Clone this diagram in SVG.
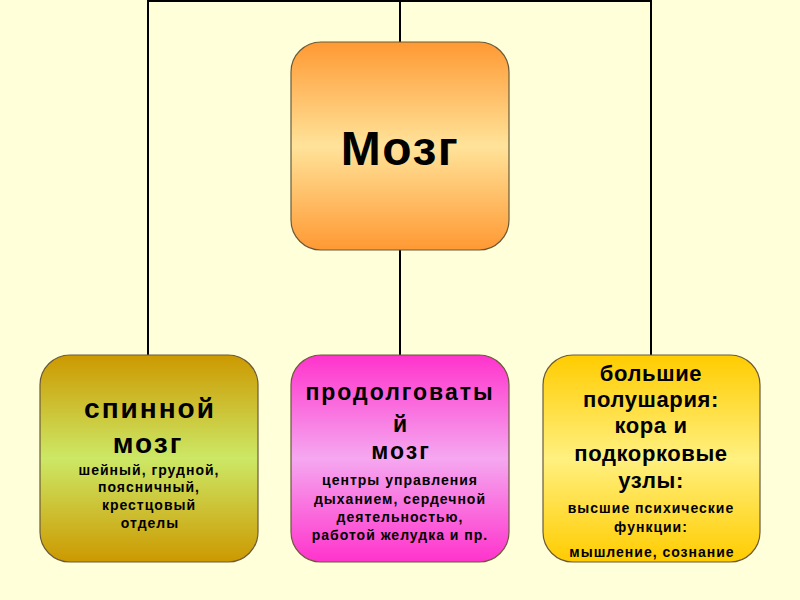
<svg xmlns="http://www.w3.org/2000/svg" width="800" height="600" viewBox="0 0 800 600">
<defs>
<linearGradient id="gTop" x1="0" y1="0" x2="0" y2="1"><stop offset="0" stop-color="#FF9933"/><stop offset="0.5" stop-color="#FFE39A"/><stop offset="1" stop-color="#FF9933"/></linearGradient>
<linearGradient id="gL" x1="0" y1="0" x2="0" y2="1"><stop offset="0" stop-color="#CC9900"/><stop offset="0.5" stop-color="#CCE866"/><stop offset="1" stop-color="#CC9900"/></linearGradient>
<linearGradient id="gM" x1="0" y1="0" x2="0" y2="1"><stop offset="0" stop-color="#FF33CC"/><stop offset="0.5" stop-color="#F5A8F0"/><stop offset="1" stop-color="#FF33CC"/></linearGradient>
<linearGradient id="gR" x1="0" y1="0" x2="0" y2="1"><stop offset="0" stop-color="#FFCC00"/><stop offset="0.5" stop-color="#FFF080"/><stop offset="1" stop-color="#FFCC00"/></linearGradient>
</defs>
<style>
.box{stroke:#6B5A3A;stroke-width:1.2}
.ln{stroke:#000;stroke-width:2;fill:none}
text{font-family:"Liberation Sans",Arial,sans-serif;font-weight:bold;text-anchor:middle;fill:#000}
.bl{font-size:28px;letter-spacing:2px}
.bm{font-size:23px;letter-spacing:2px}
.br{font-size:22px;letter-spacing:0.6px}
.sm{font-size:14px;letter-spacing:1px}
</style>
<rect width="800" height="600" fill="#FFFFD9"/>
<g id="connectors">
<polyline class="ln" points="148,355 148,1 651,1 651,355"/>
<line class="ln" x1="400" y1="0" x2="400" y2="42"/>
<line class="ln" x1="400" y1="250" x2="400" y2="355"/>
</g>
<g id="brain">
<rect class="box" x="291" y="42" width="218" height="208" rx="30" fill="url(#gTop)"/>
<text x="400" y="165" font-size="48" letter-spacing="1.5">Мозг</text>
</g>
<g id="spinal">
<rect class="box" x="40" y="355" width="218" height="207" rx="30" fill="url(#gL)"/>
<text class="bl" x="150" y="418">спинной</text>
<text class="bl" x="148" y="453">мозг</text>
<text class="sm" x="149" y="475">шейный, грудной,</text>
<text class="sm" x="149" y="492">поясничный,</text>
<text class="sm" x="149" y="510">крестцовый</text>
<text class="sm" x="150" y="528">отделы</text>
</g>
<g id="medulla">
<rect class="box" x="291" y="355" width="218" height="207" rx="30" fill="url(#gM)"/>
<text class="bm" x="400" y="400">продолговаты</text>
<text class="bm" x="401" y="432">й</text>
<text class="bm" x="401" y="459" font-size="24">мозг</text>
<text class="sm" x="400" y="485">центры управления</text>
<text class="sm" x="400" y="504">дыханием, сердечной</text>
<text class="sm" x="400" y="522">деятельностью,</text>
<text class="sm" x="400" y="540">работой желудка и пр.</text>
</g>
<g id="hemispheres">
<rect class="box" x="543" y="355" width="217" height="207" rx="30" fill="url(#gR)"/>
<text class="br" x="651" y="381">большие</text>
<text class="br" x="651" y="407">полушария:</text>
<text class="br" x="651" y="433">кора и</text>
<text class="br" x="651" y="461">подкорковые</text>
<text class="br" x="651" y="488">узлы:</text>
<text class="sm" x="651" y="513">высшие психические</text>
<text class="sm" x="651" y="532">функции:</text>
<text class="sm" x="652" y="557">мышление, сознание</text>
</g>
</svg>
